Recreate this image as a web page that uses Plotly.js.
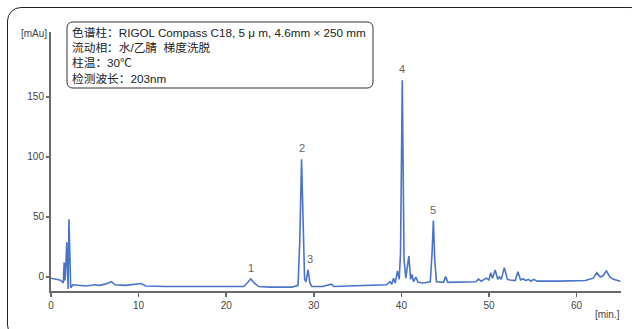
<!DOCTYPE html>
<html>
<head>
<meta charset="utf-8">
<script src="https://cdn.plot.ly/plotly-3.0.1.min.js"></script>
<style>
  html, body { margin: 0; padding: 0; background: #fff; overflow: hidden; }
  #wrap { position: relative; width: 632px; height: 329px; }
  #chart { position: absolute; left: 0; top: 0; width: 632px; height: 329px; }
  #frame {
    position: absolute; left: 7px; top: 7px; width: 638px; height: 332px;
    border: 1.5px solid #222; border-radius: 14px; box-sizing: border-box;
    pointer-events: none;
  }
</style>
</head>
<body>
<div id="wrap">
  <div id="chart"></div>
  <div id="frame"></div>
</div>
<script>
// Retention time (min) and detector response (mAU) of the chromatogram
const timeMin = [
  0, 0.5, 1.0, 1.3, 1.4, 1.5, 1.58, 1.65, 1.8, 1.9, 1.95, 2.05, 2.15, 2.25, 2.5,
  3, 4, 5, 5.5, 6.2, 6.9, 7.3, 8.5, 10.3, 10.8, 13, 16, 20,
  22.0, 22.4, 22.8, 23.2, 23.7, 25, 27.5,
  28.2, 28.4, 28.6, 28.8, 28.95, 29.1, 29.35, 29.55, 29.8,
  31, 32, 32.3, 35, 37, 38.3, 38.7, 38.9, 39.1, 39.3, 39.55, 39.75,
  39.9, 40.1, 40.3, 40.5, 40.85, 41.05, 41.2, 41.4, 41.65, 41.9, 42.5,
  43.3, 43.5, 43.65, 43.8, 44.0, 44.8, 45.05, 45.3, 47,
  48.5, 48.8, 49.1, 49.7, 50.0, 50.2, 50.4, 50.7, 51.0, 51.2, 51.4, 51.75, 52.1,
  52.4, 53.0, 53.3, 53.6, 53.9, 54.2, 54.5, 54.8, 55.1, 55.5, 58, 61,
  61.9, 62.3, 62.7, 63.0, 63.4, 63.8, 64.2, 65
];
const absorbance = [
  -1, -1.5, -2.5, -4, -5, 12, -3, 2, 29, 5, -10, 48, 5, -9, -6.5,
  -7, -7.5, -6.5, -7, -6, -4, -6.5, -7, -5.5, -7.5, -8, -8, -8.5,
  -8, -5, -1.7, -5, -8, -8.5, -8.5,
  -7, 30, 98, 30, -2, -4, 6, -5, -8,
  -8, -6, -8, -7.5, -7, -6.5, -4, -6, -1, -5, 5, -2,
  20, 164, 15, -1, 17.5, -2, 2, -4, 0, -4.5, -5,
  -4, 20, 47, 15, -4, -4.5, 0.3, -4.5, -4.5,
  -4, -1.7, -3.5, -1, -2.5, 3.6, -1, 5.8, -2, 0, -2, 7.8, -2,
  -2.5, -3, 4.4, -2.5, -1.5, -3, -2, -3.5, -2, -3.5, -3.5, -3,
  -1, 3.6, 0, 1, 5, 0, -2, -3.5
];

// Numbered peaks and their retention times
const peakNames = ['1', '2', '3', '4', '5'];
const peakTimes = [22.8, 28.6, 29.35, 40.1, 43.65];

const yTickVals = [0, 50, 100, 150];
const yTickText = ['0', '50', '100', '150'];
const xTickVals = [0, 10, 20, 30, 40, 50, 60];
const xTickText = ['0', '10', '20', '30', '40', '50', '60'];

const conditionLines = [
  '色谱柱：RIGOL Compass C18, 5 μ m, 4.6mm × 250 mm',
  '流动相：水/乙腈  梯度洗脱',
  '柱温：30℃',
  '检测波长：203nm'
];

// Plot geometry (pixels)
const W = 632, H = 329;
const M = { l: 51, r: 11, t: 32, b: 38 };
const plotW = W - M.l - M.r, plotH = H - M.t - M.b;
const px2x = p => (p - M.l) / plotW;
const px2y = p => (H - M.b - p) / plotH;

function roundedRect(x0, y0, x1, y1, r) {
  // pixel corners -> paper path with rounded corners
  const X = px2x, Y = px2y;
  return [
    `M${X(x0 + r)},${Y(y0)}`,
    `L${X(x1 - r)},${Y(y0)}`,
    `Q${X(x1)},${Y(y0)} ${X(x1)},${Y(y0 + r)}`,
    `L${X(x1)},${Y(y1 - r)}`,
    `Q${X(x1)},${Y(y1)} ${X(x1 - r)},${Y(y1)}`,
    `L${X(x0 + r)},${Y(y1)}`,
    `Q${X(x0)},${Y(y1)} ${X(x0)},${Y(y1 - r)}`,
    `L${X(x0)},${Y(y0 + r)}`,
    `Q${X(x0)},${Y(y0)} ${X(x0 + r)},${Y(y0)}`,
    'Z'
  ].join(' ');
}

const trace = {
  x: timeMin,
  y: absorbance,
  type: 'scatter',
  mode: 'lines',
  line: { color: '#4a74c8', width: 1.6 },
  hoverinfo: 'x+y'
};

const tickFont = { family: 'Liberation Sans, Arial, sans-serif', size: 10, color: '#444' };

const peakAnnotations = peakNames.map((name, i) => {
  const idx = timeMin.indexOf(peakTimes[i]);
  return {
    x: peakTimes[i], y: absorbance[idx], xref: 'x', yref: 'y',
    text: name, showarrow: false, yanchor: 'bottom', yshift: 3,
    xshift: name === '3' ? 2 : 0,
    font: { family: 'Liberation Sans, Arial, sans-serif', size: 11, color: '#666' }
  };
});

const layout = {
  width: W, height: H,
  margin: M,
  paper_bgcolor: 'rgba(0,0,0,0)',
  plot_bgcolor: 'rgba(0,0,0,0)',
  showlegend: false,
  xaxis: {
    range: [0, plotW / 8.76],
    showgrid: false, zeroline: false,
    showline: true, linecolor: '#6a6a6a', linewidth: 2,
    ticks: 'outside', ticklen: 4, tickwidth: 1.5, tickcolor: '#6a6a6a',
    tickvals: xTickVals, ticktext: xTickText,
    tickfont: tickFont
  },
  yaxis: {
    range: [-11.7, -11.7 + plotH / 1.2],
    showgrid: false, zeroline: false,
    showline: true, linecolor: '#6a6a6a', linewidth: 2,
    ticks: 'outside', ticklen: 3, tickwidth: 1.5, tickcolor: '#6a6a6a',
    tickvals: yTickVals, ticktext: yTickText,
    tickfont: tickFont
  },
  shapes: [
    {
      type: 'path', xref: 'paper', yref: 'paper',
      path: roundedRect(67, 22, 373, 88, 6),
      line: { color: '#333', width: 1 },
      fillcolor: 'rgba(255,255,255,0)'
    }
  ],
  annotations: peakAnnotations.concat([
    {
      xref: 'paper', yref: 'paper', x: px2x(70), y: px2y(24),
      xanchor: 'left', yanchor: 'top', align: 'left', showarrow: false,
      text: conditionLines.join('<br>'),
      font: { family: 'Liberation Sans, Noto Sans CJK SC, sans-serif', size: 11.7, color: '#222' }
    },
    {
      xref: 'paper', yref: 'paper', x: px2x(49), y: px2y(33),
      xanchor: 'right', yanchor: 'middle', showarrow: false,
      text: '[mAu]', font: tickFont
    },
    {
      xref: 'paper', yref: 'paper', x: px2x(607), y: px2y(314),
      xanchor: 'center', yanchor: 'middle', showarrow: false,
      text: '[min.]', font: tickFont
    }
  ])
};

Plotly.newPlot('chart', [trace], layout, { displayModeBar: false, staticPlot: true });
</script>
</body>
</html>
